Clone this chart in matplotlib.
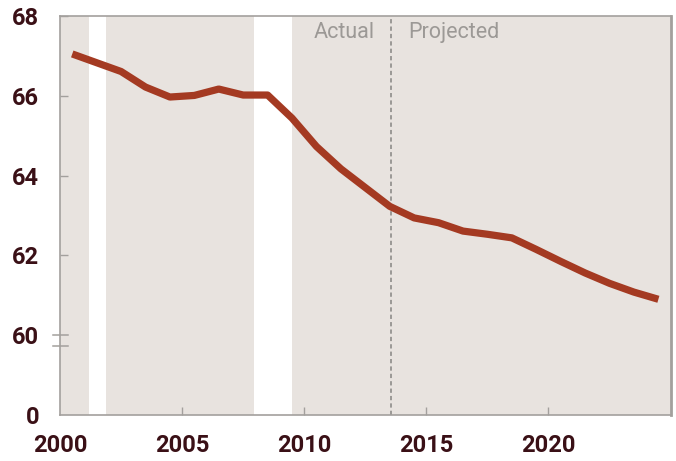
import matplotlib
matplotlib.use("Agg")
import matplotlib.pyplot as plt
import matplotlib.transforms as mtransforms

# Data
years = list(range(2000, 2025))
values = [67.05, 66.83, 66.61, 66.22, 65.97, 66.01, 66.17, 66.02, 66.02, 65.44,
          64.73, 64.17, 63.70, 63.23, 62.94, 62.82, 62.61, 62.53, 62.44, 62.15,
          61.85, 61.56, 61.30, 61.08, 60.90]
recessions = [(2001.17, 2001.88), (2007.95, 2009.48)]
projection_start = 2013.55
ytick_vals = [58, 60, 62, 64, 66, 68]
ytick_labels = ["0", "60", "62", "64", "66", "68"]
xtick_vals = [2000, 2005, 2010, 2015, 2020]
xtick_labels = ["2000", "2005", "2010", "2015", "2020"]

bg = "#e8e3df"
line_c = "#a43a22"
text_c = "#3a1016"
grey = "#a3a09d"

fig = plt.figure(figsize=(6.76, 4.61), dpi=100)
ax = fig.add_axes([0.0888, 0.0998, 0.9032, 0.8654])
ax.set_facecolor(bg)

for a, b in recessions:
    ax.axvspan(a, b, color="white", lw=0, zorder=1)

ax.axvline(projection_start, color="#9a9896", lw=1.4, ls=(0, (2.2, 1.6)), zorder=2)

ax.plot([y + 0.5 for y in years], values, color=line_c, lw=5.2,
        solid_joinstyle="round", solid_capstyle="butt", zorder=3)

ax.set_xlim(2000, 2025)
ax.set_ylim(58, 68)

ax.set_yticks(ytick_vals)
ax.set_yticklabels(ytick_labels)
ax.set_xticks(xtick_vals)
ax.set_xticklabels(xtick_labels)

ax.tick_params(axis="both", direction="in", length=6, width=1, color=grey,
               labelcolor=text_c, labelsize=17)
ax.tick_params(axis="y", pad=15)
ax.tick_params(axis="x", pad=14)
for lab in ax.get_xticklabels() + ax.get_yticklabels():
    lab.set_fontfamily("Roboto")
    lab.set_fontweight("bold")

yt = ax.yaxis.get_major_ticks()
yt[0].tick1line.set_visible(False)
yt[1].tick1line.set_visible(False)
ax.xaxis.get_major_ticks()[0].tick1line.set_visible(False)

for s in ax.spines.values():
    s.set_color(grey)
    s.set_linewidth(1.2)
ax.spines["right"].set_linewidth(2)

# axis break marks at 60
tr = mtransforms.blended_transform_factory(ax.transAxes, ax.transData)
for yb in (60, 59.72):
    ax.plot([-0.012, 0.013], [yb, yb], color=grey, lw=1.1, transform=tr,
            clip_on=False, zorder=5)

ax.text(projection_start - 0.68, 67.6, "Actual", ha="right", va="center",
        fontsize=15.5, color="#9c9996", family="Roboto", zorder=4)
ax.text(projection_start + 0.72, 67.6, "Projected", ha="left", va="center",
        fontsize=15.5, color="#9c9996", family="Roboto", zorder=4)

fig.savefig("out.png", dpi=100)
